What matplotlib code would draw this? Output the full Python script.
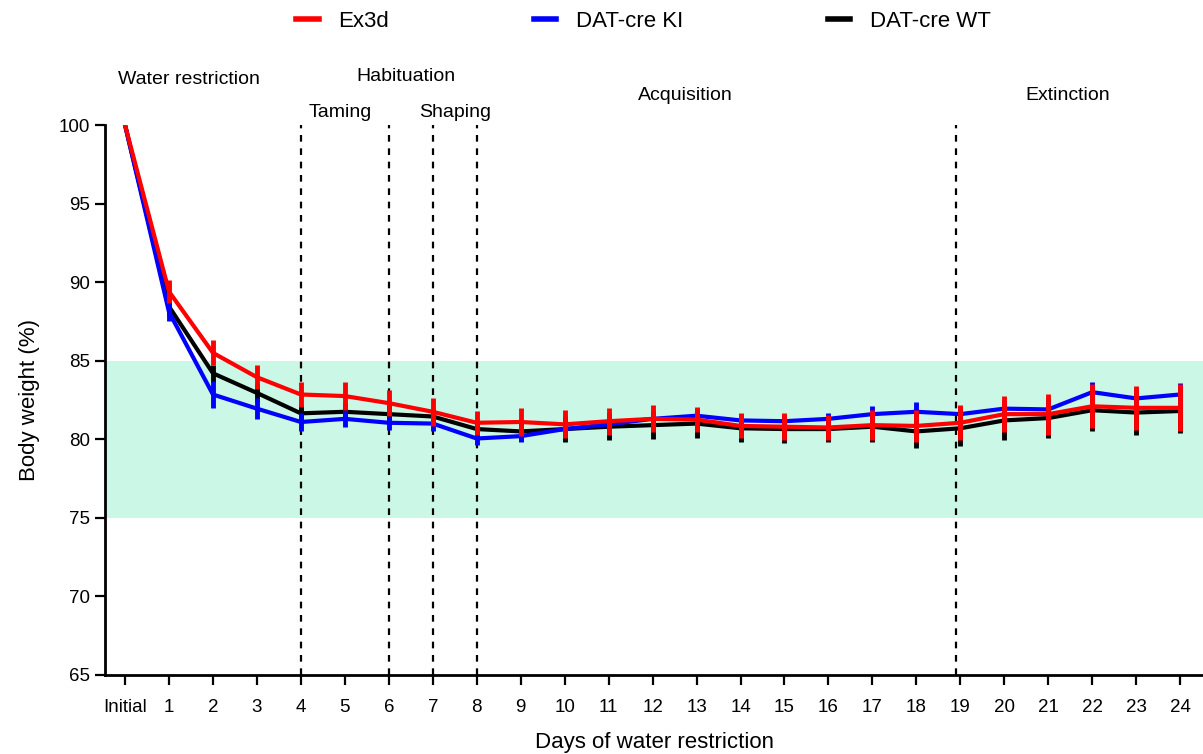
import numpy as np
import matplotlib.pyplot as plt
from matplotlib.lines import Line2D

plt.rcParams['font.family'] = ['Liberation Sans', 'DejaVu Sans']

# x categories
days = ["Initial"] + [str(d) for d in range(1, 25)]

# mean body weight (%) per group
ex3d = [100, 89.4, 85.5, 83.95, 82.85, 82.75, 82.3, 81.75, 81.05, 81.1, 80.95,
        81.15, 81.3, 81.25, 80.85, 80.8, 80.75, 80.9, 80.85, 81.05, 81.6, 81.6,
        82.1, 82.0, 82.0]
ex3d_err = [0, 0.75, 0.8, 0.75, 0.8, 0.9, 0.85, 0.9, 0.75, 0.9, 0.9, 0.85, 0.85,
            0.8, 0.8, 0.85, 0.8, 0.95, 1.0, 1.1, 1.15, 1.3, 1.4, 1.4, 1.5]

ki = [100, 88.1, 82.85, 81.95, 81.1, 81.3, 81.05, 81.0, 80.05, 80.2, 80.65,
      80.95, 81.3, 81.5, 81.2, 81.15, 81.3, 81.6, 81.75, 81.6, 81.95, 81.9,
      83.0, 82.6, 82.85]
ki_err = [0, 0.55, 0.85, 0.65, 0.55, 0.55, 0.45, 0.5, 0.4, 0.4, 0.45, 0.45, 0.45,
          0.45, 0.4, 0.4, 0.4, 0.5, 0.6, 0.5, 0.55, 0.6, 0.65, 0.6, 0.75]

wt = [100, 88.45, 84.2, 82.95, 81.65, 81.75, 81.6, 81.45, 80.65, 80.5, 80.65,
      80.8, 80.9, 81.0, 80.7, 80.65, 80.65, 80.8, 80.5, 80.7, 81.2, 81.35,
      81.85, 81.7, 81.8]
wt_err = [0, 0.6, 0.55, 0.55, 0.5, 0.55, 0.55, 0.5, 0.55, 0.6, 0.8, 0.85, 0.9,
          0.9, 0.85, 0.9, 0.85, 1.0, 1.05, 1.1, 1.25, 1.3, 1.35, 1.4, 1.4]

# phase boundaries (category index)
phase_lines = [4, 6, 7, 8, 18.9]

x = np.arange(len(days))

fig = plt.figure(figsize=(12.03, 7.54), dpi=100)
ax = fig.add_axes([0.0873, 0.1048, 0.9127, 0.7294])

ax.axhspan(75, 85, color='#CBF7E6', zorder=0, lw=0)

for xv in phase_lines:
    ax.axvline(xv, color='black', ls=(0, (3, 3)), lw=1.6, zorder=1)

ax.errorbar(x, wt, yerr=wt_err, color='black', lw=3, elinewidth=3.5,
            capsize=0, zorder=3)
ax.errorbar(x, ki, yerr=ki_err, color='#0000FF', lw=3, elinewidth=3.5,
            capsize=0, zorder=4)
ax.errorbar(x, ex3d, yerr=ex3d_err, color='#FF0000', lw=3, elinewidth=3.5,
            capsize=0, zorder=5)

ax.set_xlim(-0.455, 24.52)
ax.set_ylim(65, 100)
ax.set_yticks(np.arange(65, 101, 5))
ax.set_xticks(x)
ax.set_xticklabels(days)
ax.spines['top'].set_visible(False)
ax.spines['right'].set_visible(False)
ax.spines['left'].set_linewidth(2)
ax.spines['bottom'].set_linewidth(2)
ax.tick_params(axis='both', width=1.6, length=7, labelsize=13.5)
ax.tick_params(axis='x', pad=10)
ax.set_xlabel('Days of water restriction', fontsize=16, labelpad=12)
ax.set_ylabel('Body weight (%)', fontsize=16, labelpad=14)

# phase labels
tk = dict(fontsize=14, ha='center', va='center', transform=ax.transData,
          clip_on=False)
ax.text(1.45, 102.9, 'Water restriction', **tk)
ax.text(6.4, 103.1, 'Habituation', **tk)
ax.text(4.9, 100.8, 'Taming', **tk)
ax.text(7.5, 100.8, 'Shaping', **tk)
ax.text(12.75, 101.9, 'Acquisition', **tk)
ax.text(21.45, 101.9, 'Extinction', **tk)

handles = [Line2D([], [], color='#FF0000', lw=4),
           Line2D([], [], color='#0000FF', lw=4),
           Line2D([], [], color='black', lw=4)]
fig.legend(handles, ['Ex3d', 'DAT-cre KI', 'DAT-cre WT'],
           loc='center', bbox_to_anchor=(0.535, 0.972), ncol=3, frameon=False,
           fontsize=16, handlelength=1.0, columnspacing=6.5, handletextpad=0.9)

fig.savefig('out.png', dpi=100)
